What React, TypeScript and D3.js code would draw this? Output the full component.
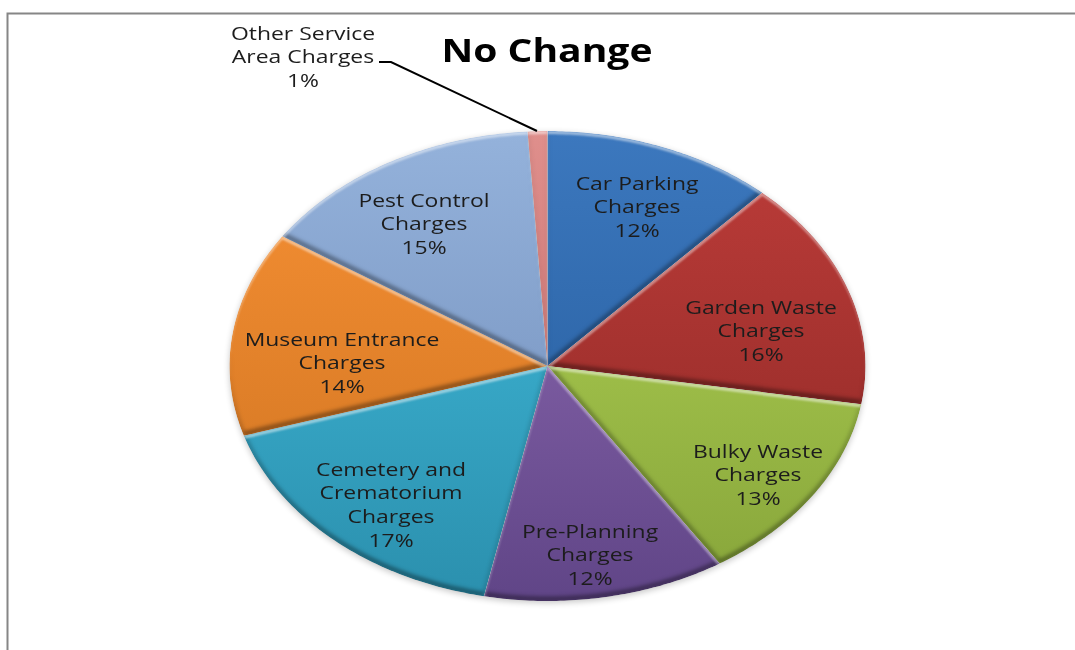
import React from "react";
import * as d3 from "d3";

const categories = [
  ["Car Parking", "Charges"],
  ["Garden Waste", "Charges"],
  ["Bulky Waste", "Charges"],
  ["Pre-Planning", "Charges"],
  ["Cemetery and", "Crematorium", "Charges"],
  ["Museum Entrance", "Charges"],
  ["Pest Control", "Charges"],
  ["Other Service", "Area Charges"],
];
const values = [11.8, 15.8, 13.3, 12.3, 17.0, 14.1, 14.7, 1.0];
const topColors = ["#3c78be", "#b73a37", "#9dbd48", "#7a5a9f", "#37a7c6", "#ee8a30", "#94b2db", "#df8f8c"];
const bottomColors = ["#2f68ab", "#a0302d", "#8aa83c", "#604587", "#2b90ae", "#dc7d27", "#819ec9", "#cf7a78"];
const labelX = [637, 761, 758, 590, 391, 342, 424, 303];
const labelY = [183, 307, 451, 531, 469, 339, 200, 33];

const W = 1075, H = 650;
const cx = 547.5, cy = 366, rx = 318, ry = 235;
const lineGap = 23.7;
const stretch = 1.24;

const pieGen = d3.pie<number>().sort(null).value((d) => d);
const arcs = pieGen(values);
const sx = d3.scaleLinear().domain([0, 1]).range([0, rx]);
const sy = d3.scaleLinear().domain([0, 1]).range([0, ry]);
const leader = d3.line()([[379, 62], [391, 62], [537, 131]]) as string;
const font = "'Open Sans', 'Noto Sans', sans-serif";

function slicePath(startAngle: number, endAngle: number) {
  const n = 64;
  const ang = d3.scaleLinear().domain([0, n]).range([startAngle, endAngle]);
  const pts: [number, number][] = [[0, 0]];
  d3.range(n + 1).forEach((k) => {
    const t = ang(k);
    pts.push([sx(Math.sin(t)), sy(-Math.cos(t))]);
  });
  return (d3.line()(pts) as string) + "Z";
}

export default function App() {
  return (
    <svg width={W} height={H} viewBox={`0 0 ${W} ${H}`} style={{ position: "absolute", left: 0, top: 0, background: "#fff" }}>
      <defs>
        {topColors.map((c, i) => (
          <linearGradient key={i} id={`g${i}`} x1="0" y1="0" x2="0" y2="1">
            <stop offset="0" stopColor={c} />
            <stop offset="1" stopColor={bottomColors[i]} />
          </linearGradient>
        ))}
        <filter id="bevel" x="-5%" y="-5%" width="110%" height="110%" colorInterpolationFilters="sRGB">
          <feOffset in="SourceAlpha" dy="3" result="offDown" />
          <feComposite in="SourceAlpha" in2="offDown" operator="out" result="topEdge" />
          <feGaussianBlur in="topEdge" stdDeviation="1.3" result="topBlur" />
          <feFlood floodColor="#ffffff" floodOpacity="0.55" />
          <feComposite in2="topBlur" operator="in" result="hi" />
          <feOffset in="SourceAlpha" dy="-4" result="offUp" />
          <feComposite in="SourceAlpha" in2="offUp" operator="out" result="botEdge" />
          <feGaussianBlur in="botEdge" stdDeviation="2" result="botBlur" />
          <feFlood floodColor="#000000" floodOpacity="0.5" />
          <feComposite in2="botBlur" operator="in" result="lo" />
          <feMerge result="m">
            <feMergeNode in="SourceGraphic" />
            <feMergeNode in="lo" />
            <feMergeNode in="hi" />
          </feMerge>
          <feComposite in="m" in2="SourceAlpha" operator="in" />
        </filter>
        <filter id="soft" x="-5%" y="-5%" width="110%" height="110%">
          <feGaussianBlur stdDeviation="3" />
        </filter>
        <filter id="textSoft" x="-5%" y="-20%" width="110%" height="140%">
          <feGaussianBlur stdDeviation="0.3" />
        </filter>
      </defs>

      <path d={`M7.5 ${H + 5} V13.5 H${W + 5}`} fill="none" stroke="#868686" strokeWidth={2} />

      <ellipse cx={cx} cy={cy + 2} rx={rx} ry={ry} fill="#000" opacity={0.22} filter="url(#soft)" />

      <g transform={`translate(${cx},${cy})`}>
        {arcs.map((a, i) => (
          <path key={i} d={slicePath(a.startAngle, a.endAngle)} fill={`url(#g${i})`} filter="url(#bevel)" />
        ))}
      </g>

      <path d={leader} fill="none" stroke="#000" strokeWidth={2} />

      <g fontFamily={font} fontSize={18.5} fill="#1c1c1c" textAnchor="middle" filter="url(#textSoft)">
        {categories.map((lines, i) => {
          const all = [...lines, `${Math.round(values[i])}%`];
          return (
            <g key={i} transform={`translate(${labelX[i]},${labelY[i]}) scale(${stretch},1)`}>
              <text>
                {all.map((t, k) => (
                  <tspan key={k} x={0} y={k * lineGap + 6.5}>{t}</tspan>
                ))}
              </text>
            </g>
          );
        })}
      </g>

      <g transform="translate(547,62) scale(1.24,1)">
        <text textAnchor="middle" fontFamily={font} fontWeight={700} fontSize={31.5} fill="#000">No Change</text>
      </g>
    </svg>
  );
}
